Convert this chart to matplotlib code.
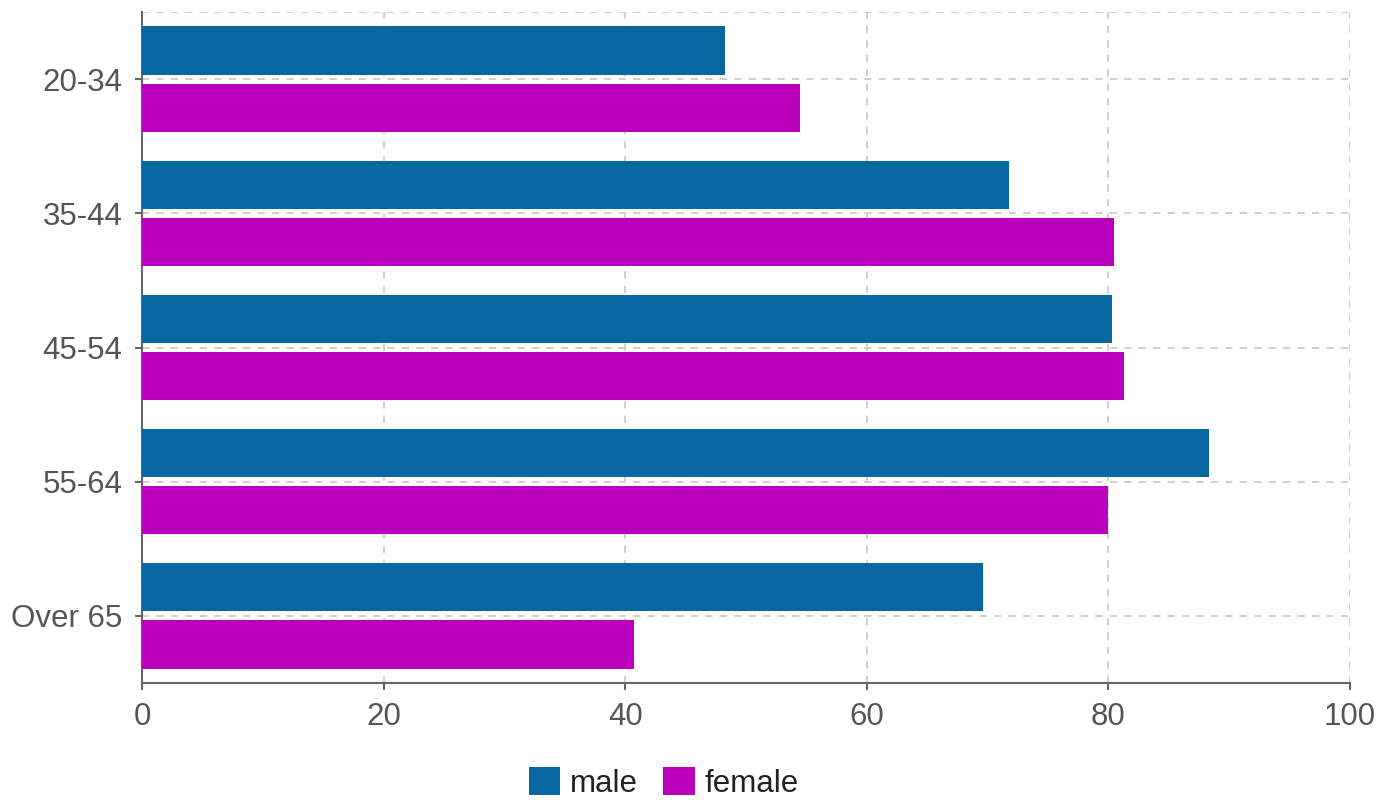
import numpy as np
import matplotlib.pyplot as plt

plt.rcParams['font.family'] = ['Liberation Sans', 'DejaVu Sans']

# Data
age_groups = ['20-34', '35-44', '45-54', '55-64', 'Over 65']
male = [48.3, 71.8, 80.3, 88.3, 69.6]
female = [54.5, 80.5, 81.3, 80.0, 40.7]

male_color = '#0867a0'
female_color = '#bb00bb'

fig = plt.figure(figsize=(13.96, 8), dpi=100)
ax = fig.add_axes([142 / 1396, 1 - 683 / 800, (1350 - 142) / 1396, (683 - 12) / 800])

y = np.arange(len(age_groups))
bar_h = 0.358
offset = 0.213

ax.barh(y - offset, male, height=bar_h, color=male_color, label='male', zorder=3)
ax.barh(y + offset, female, height=bar_h, color=female_color, label='female', zorder=3)

ax.set_ylim(len(age_groups) - 0.5, -0.5)
ax.set_xlim(0, 100)
ax.set_yticks(y)
ax.set_yticklabels(age_groups)
ax.set_xticks([0, 20, 40, 60, 80, 100])

# Dashed grid, including the top border line
ax.grid(True, which='major', ls=(0, (4, 4)), color='#cccccc', lw=1.3, zorder=0)
ax.axhline(-0.5, ls=(0, (4, 4)), color='#cccccc', lw=1.3, zorder=0)

for side in ['top', 'right']:
    ax.spines[side].set_visible(False)
for side in ['left', 'bottom']:
    ax.spines[side].set_color('#666666')
    ax.spines[side].set_linewidth(1.5)

ax.tick_params(axis='both', colors='#666666', labelcolor='#555555',
               labelsize=22.5, length=5, width=1.5)
ax.tick_params(axis='y', pad=9)
ax.tick_params(axis='x', pad=9)

fig.legend(loc='center', bbox_to_anchor=(664 / 1396, 1 - 783 / 800),
           ncol=2, frameon=False, fontsize=22.5, handlelength=1.0,
           handleheight=1.0, handletextpad=0.32, columnspacing=0.8,
           labelcolor='#222222')

fig.savefig('out.png', dpi=100)
